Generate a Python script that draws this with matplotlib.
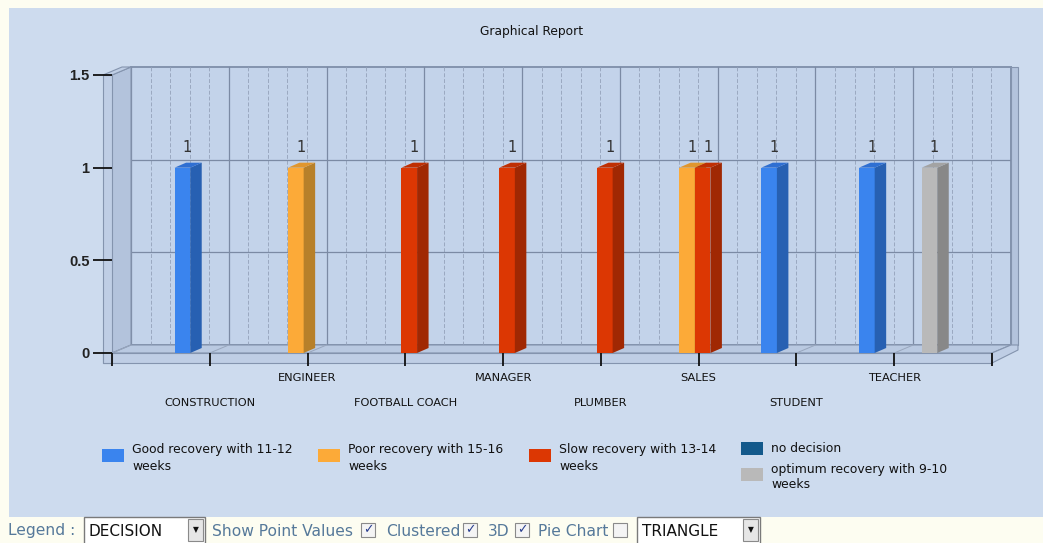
"""Graphical report: 3D-style clustered bars of recovery decision per occupation.

The web chart draws its bars with a fake depth (side + top faces) and a
walled box behind them; this rebuilds that look with flat patches offset a
few pixels up/right from the front plane.
"""
import matplotlib
matplotlib.use("Agg")
import matplotlib.pyplot as plt
from matplotlib.patches import Polygon, Rectangle

W, H = 1043, 543

CATEGORIES = ["CONSTRUCTION", "ENGINEER", "FOOTBALL COACH", "MANAGER",
              "PLUMBER", "SALES", "STUDENT", "TEACHER"]
SERIES = ["Good recovery with 11-12\nweeks",
          "Poor recovery with 15-16\nweeks",
          "Slow recovery with 13-14\nweeks",
          "no decision",
          "optimum recovery with 9-10\nweeks"]
GOOD = [1, 0, 0, 0, 0, 0, 1, 1]
POOR = [0, 1, 0, 0, 0, 1, 0, 0]
SLOW = [0, 0, 1, 1, 1, 1, 0, 0]
NO_DECISION = [0, 0, 0, 0, 0, 0, 0, 0]
OPTIMUM = [0, 0, 0, 0, 0, 0, 0, 1]
Y_TICKS = [0, 0.5, 1, 1.5]

# (front, side, top) shade per series
SHADES = [("#3a84ee", "#2760b2", "#2f6fd2"),
          ("#fcaa38", "#b7802a", "#e0962e"),
          ("#dc3703", "#a02803", "#bf2f03"),
          ("#13598b", "#0d3f63", "#104c77"),
          ("#b9b9b9", "#888888", "#a3a3a3")]
PAGE = "#fdfdf1"
PANEL = "#cddbee"
WALL = "#c3d3ea"
SIDE = "#b3c3dc"
SLAB = "#bfcee5"
EDGE = "#8494ae"
GRID = "#7b8aa4"
UI_TEXT = "#56799a"

WDX, WDY = 19, 8      # back wall depth, pixels
BDX, BDY = 11.5, 5    # bar depth, pixels

fig = plt.figure(figsize=(W / 100, H / 100), dpi=100)
fig.patch.set_facecolor(PAGE)

# page layer in pixel coordinates
bg = fig.add_axes([0, 0, 1, 1], zorder=0)
bg.set_xlim(0, W)
bg.set_ylim(H, 0)
bg.axis("off")
bg.add_patch(Rectangle((9, 8), W - 9, 509, color=PANEL, lw=0))
bg.text(532, 31, "Graphical Report", ha="center", va="center", fontsize=8.8, color="#111111")

ax = fig.add_axes([112 / W, 1 - 353 / H, 880 / W, 278 / H], zorder=1)
ax.set_facecolor("none")
ax.set_xlim(-1, len(CATEGORIES))
ax.set_ylim(0, 1.5)
for sp in ax.spines.values():
    sp.set_visible(False)
x0, x1 = ax.get_xlim()
y0, y1 = ax.get_ylim()


def shift(x, y, dxp=0, dyp=0):
    """Data point moved by a screen offset in pixels (dyp > 0 is up)."""
    px, py = ax.transData.transform((x, y))
    return tuple(ax.transData.inverted().transform((px + dxp, py + dyp)))


def poly(pts, fc, z, ec=EDGE, lw=0.8):
    ax.add_patch(Polygon(pts, closed=True, fc=fc, ec=ec, lw=lw, zorder=z, clip_on=False))


def seg(a, b, **kw):
    ax.plot([a[0], b[0]], [a[1], b[1]], clip_on=False, **kw)


# box: back wall, left wall, floor, slab thickness
poly([shift(x0, y0, WDX, WDY), shift(x1, y0, WDX, WDY),
      shift(x1, y1, WDX, WDY), shift(x0, y1, WDX, WDY)], WALL, 0.2, lw=1.4)
poly([(x0, y0), shift(x0, y0, WDX, WDY), shift(x0, y1, WDX, WDY), (x0, y1)], SIDE, 0.3)
poly([(x0, y0), (x1, y0), shift(x1, y0, WDX, WDY), shift(x0, y0, WDX, WDY)], "#b9c9e1", 0.3)
poly([shift(x0, y0, -9, -10), shift(x1, y0, 0, -10), (x1, y0), shift(x0, y0, -9, 0)], SLAB, 0.4)
poly([shift(x0, y0, -9, -10), shift(x0, y0, 0, -10), (x0, y1), shift(x0, y1, -9, 0)], SLAB, 0.4)
poly([shift(x0, y1, -9, 0), (x0, y1), shift(x0, y1, WDX, WDY), shift(x0, y1, WDX - 9, WDY)], SLAB, 0.4)
poly([shift(x1, y0, WDX, WDY), shift(x1, y0, WDX + 7, WDY),
      shift(x1, y1, WDX + 7, WDY), shift(x1, y1, WDX, WDY)], SIDE, 0.4)
poly([(x1, y0), shift(x1, y0, WDX, WDY), shift(x1, y0, WDX + 7, WDY),
      shift(x1, y0, WDX + 7, WDY - 5), shift(x1, y0, 0, -10)], SLAB, 0.4)

# back wall grid: solid at category bounds, dashed 5 per category
for k in range(int(round((x1 - x0) * 5)) + 1):
    x = x0 + k * 0.2
    a, b = shift(x, y0, WDX, WDY), shift(x, y1, WDX, WDY)
    major = k % 5 == 0
    seg(a, b, color=GRID if major else "#9aa8c0", lw=0.9 if major else 0.7,
        ls="-" if major else (0, (4, 2)), zorder=0.25)
    if major:
        seg((x, y0), a, color="#98a6bd", lw=0.7, zorder=0.35)
for y in Y_TICKS[1:-1]:
    seg(shift(x0, y, WDX, WDY), shift(x1, y, WDX, WDY), color=GRID, lw=0.9, zorder=0.25)

ax.set_yticks(Y_TICKS, [f"{t:g}" for t in Y_TICKS])
ax.tick_params(axis="y", length=13.7, width=1.3, pad=2.5, color="#111111",
               labelsize=10.5, labelcolor="#222222", labelfontfamily="Liberation Sans")
for lab in ax.get_yticklabels():
    lab.set_fontweight("bold")
ax.set_xticks(range(-1, len(CATEGORIES) + 1))
ax.set_xticklabels([])
ax.tick_params(axis="x", length=9.4, width=1.3, color="#111111")

for k, name in enumerate(CATEGORIES):
    ax.annotate(name, (k, 0), xytext=(0, -50 if k % 2 == 0 else -25),
                textcoords="offset pixels", ha="center", va="center",
                fontsize=8.2, color="#111111", annotation_clip=False)

# clustered bars with fake depth
values = [GOOD, POOR, SLOW, NO_DECISION, OPTIMUM]
width = 0.16
for j, (vals, (front, side, top)) in enumerate(zip(values, SHADES)):
    xs = [k - len(values) * width / 2 + j * width + 0.04 for k in range(len(CATEGORIES))]
    z = 3 + j * 0.1
    bars = ax.bar(xs, vals, width=width, align="edge", color=front, lw=0, zorder=z)
    for rect, v in zip(bars, vals):
        if v <= 0:
            continue
        l, r, t = rect.get_x(), rect.get_x() + rect.get_width(), rect.get_height()
        poly([(r, 0), shift(r, 0, BDX, BDY), shift(r, t, BDX, BDY), (r, t)], side, z + 0.01, ec="none")
        poly([(l, t), (r, t), shift(r, t, BDX, BDY), shift(l, t, BDX, BDY)], top, z + 0.02, ec="none")
        ax.annotate(f"{v:g}", ((l + r) / 2, t), xytext=(5, 20), textcoords="offset pixels",
                    ha="center", va="center", fontsize=10.5, color="#333333")

# legend (4 columns, last column holds two entries)
legend_pos = [(102, 449), (318, 449), (529, 449), (741, 442), (741, 468)]
for (lx, ly), label, (front, _, _) in zip(legend_pos, SERIES, SHADES):
    bg.add_patch(Rectangle((lx, ly), 22, 13, color=front, lw=0))
    bg.text(lx + 30, ly + 6.5 + (2.5 if "\n" in label else 0), label, ha="left", va="center",
            fontsize=8.9, linespacing=1.3, color="#111111")

# control strip under the chart
UI_Y = 531


def dropdown(xa, xb, text):
    bg.add_patch(Rectangle((xa, 517), xb - xa, 30, fc="white", ec="#7a7a7a", lw=1))
    bg.add_patch(Rectangle((xb - 17, 519), 15, 22, fc="#e6e6e6", ec="#8a8a8a", lw=0.8))
    bg.text(xb - 9.5, 530, "\u25bc", ha="center", va="center", fontsize=5.5, color="#111111")
    bg.text(xa + 5, UI_Y, text, ha="left", va="center", fontsize=11, color="#111111")


def checkbox(xa, checked):
    bg.add_patch(Rectangle((xa, 523), 14, 14, fc="#f4f4f4", ec="#8a8a8a", lw=0.8))
    if checked:
        bg.text(xa + 7, 530, "\u2713", ha="center", va="center", fontsize=9,
                color="#2a3f8f", fontweight="bold")


bg.text(8, UI_Y, "Legend :", ha="left", va="center", fontsize=11.2, color=UI_TEXT)
dropdown(84, 205, "DECISION")
bg.text(212, UI_Y, "Show Point Values", ha="left", va="center", fontsize=11.2, color=UI_TEXT)
checkbox(361, True)
bg.text(386, UI_Y, "Clustered", ha="left", va="center", fontsize=11.2, color=UI_TEXT)
checkbox(463, True)
bg.text(488, UI_Y, "3D", ha="left", va="center", fontsize=11.2, color=UI_TEXT)
checkbox(515, True)
bg.text(538, UI_Y, "Pie Chart", ha="left", va="center", fontsize=11.2, color=UI_TEXT)
checkbox(613, False)
dropdown(637, 760, "TRIANGLE")

fig.savefig("out.png", dpi=100, facecolor=fig.get_facecolor())
